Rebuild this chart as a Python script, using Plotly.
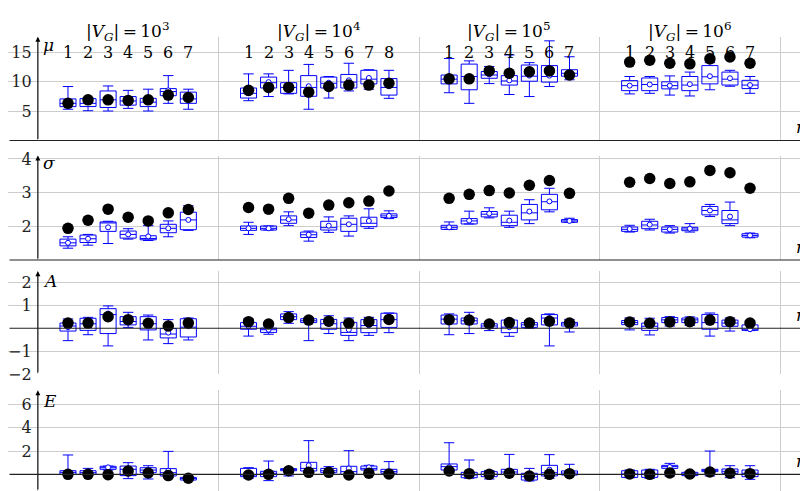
import plotly.graph_objects as go

# ---------------- data ----------------
group_exps = [3, 4, 5, 6]
group_sizes = [7, 8, 7, 7]
x_pos = [1.5, 2.5, 3.5, 4.5, 5.5, 6.5, 7.5,
         10.5, 11.5, 12.5, 13.5, 14.5, 15.5, 16.5, 17.5,
         20.5, 21.5, 22.5, 23.5, 24.5, 25.5, 26.5,
         29.5, 30.5, 31.5, 32.5, 33.5, 34.5, 35.5]
box_labels = ["1", "2", "3", "4", "5", "6", "7",
              "1", "2", "3", "4", "5", "6", "7", "8",
              "1", "2", "3", "4", "5", "6", "7",
              "1", "2", "3", "4", "5", "6", "7"]
grid_x = [0, 9, 19, 28, 37]

# mu
mu_lower = [5.3, 5.05, 5.0, 5.45, 5.0, 6.3, 5.3, 6.75, 7.45, 7.9, 5.3, 7.2, 8.4, 8.7, 7.15,
            8.1, 6.3, 9.65, 7.8, 7.45, 9.15, 10.3, 7.9, 8.0, 7.7, 7.55, 8.6, 9.2, 8.0]
mu_q1 = [5.74, 5.75, 5.6, 6.0, 5.75, 7.6, 6.3, 7.2, 8.9, 8.0, 7.5, 8.9, 8.9, 9.6, 7.7,
         9.6, 8.6, 10.55, 9.4, 10.05, 9.9, 10.9, 8.45, 8.45, 8.75, 8.45, 9.6, 9.4, 8.8]
mu_median = [6.3, 6.3, 6.9, 6.7, 6.5, 8.3, 7.05, 8.0, 9.8, 9.0, 9.0, 9.7, 9.9, 10.4, 9.0,
             10.4, 10.85, 11.1, 10.1, 10.9, 10.85, 11.4, 9.3, 9.5, 9.3, 9.4, 10.8, 10.4, 9.4]
mu_q3 = [7.05, 7.1, 8.4, 7.45, 7.15, 8.8, 8.2, 8.9, 10.75, 9.8, 11.0, 10.75, 11.2, 11.9, 10.5,
         11.1, 12.95, 11.7, 11.0, 12.8, 12.7, 12.0, 10.15, 10.6, 9.95, 10.85, 12.7, 11.6, 10.2]
mu_upper = [9.15, 7.2, 9.25, 8.5, 8.7, 11.0, 8.7, 11.3, 11.3, 11.9, 12.9, 10.85, 13.1, 12.0, 11.9,
            13.9, 13.5, 12.55, 14.5, 13.2, 16.9, 14.2, 10.85, 10.85, 10.95, 11.6, 13.2, 11.9, 10.85]
mu_mean = [6.3, 6.5, 7.0, 6.7, 6.6, 8.5, 7.2, 8.0, 9.9, 9.0, 9.2, 9.8, 10.2, 10.6, 9.2,
           10.4, 10.7, 11.2, 10.2, 11.0, 11.0, 11.4, 9.3, 9.5, 9.3, 9.55, 10.9, 10.55, 9.4]
mu_dot = [6.3, 6.9, 6.9, 6.8, 6.9, 7.7, 7.3, 8.5, 9.0, 9.0, 8.2, 9.15, 9.4, 9.4, 9.7,
          10.45, 10.45, 11.8, 11.4, 11.65, 11.8, 11.1, 13.3, 13.6, 13.1, 13.0, 13.85, 14.15, 13.1]

# sigma
sg_lower = [1.35, 1.44, 1.49, 1.62, 1.58, 1.69, 1.88, 1.76, 1.89, 2.02, 1.56, 1.82, 1.71, 1.94, 2.23,
            1.91, 2.07, 2.25, 1.97, 2.08, 2.43, 2.12, 1.83, 1.89, 1.8, 1.83, 2.29, 2.02, 1.66]
sg_q1 = [1.42, 1.52, 1.85, 1.65, 1.6, 1.81, 1.9, 1.88, 1.89, 2.09, 1.67, 1.89, 1.85, 1.99, 2.26,
         1.91, 2.07, 2.28, 2.02, 2.19, 2.49, 2.12, 1.85, 1.93, 1.83, 1.87, 2.34, 2.08, 1.68]
sg_median = [1.51, 1.63, 2.1, 1.76, 1.64, 1.94, 2.19, 1.94, 1.94, 2.19, 1.75, 1.96, 2.06, 2.09, 2.31,
             1.97, 2.16, 2.36, 2.12, 2.4, 2.73, 2.16, 1.91, 2.04, 1.91, 1.92, 2.47, 2.19, 1.73]
sg_q3 = [1.62, 1.74, 2.13, 1.86, 1.72, 2.06, 2.42, 2.01, 2.01, 2.31, 1.83, 2.15, 2.24, 2.27, 2.37,
         2.03, 2.23, 2.44, 2.33, 2.65, 2.95, 2.2, 1.98, 2.15, 1.98, 1.97, 2.59, 2.47, 1.78]
sg_upper = [1.69, 1.76, 2.15, 1.93, 2.02, 2.16, 2.61, 2.12, 2.01, 2.43, 1.86, 2.28, 2.31, 2.52, 2.46,
            2.13, 2.45, 2.55, 2.45, 2.79, 3.13, 2.24, 2.03, 2.21, 2.02, 2.08, 2.65, 2.72, 1.8]
sg_mean = [1.51, 1.63, 1.97, 1.76, 1.7, 1.94, 2.19, 1.94, 1.94, 2.21, 1.75, 2.02, 2.06, 2.16, 2.31,
           1.97, 2.17, 2.38, 2.17, 2.44, 2.74, 2.16, 1.92, 2.05, 1.91, 1.93, 2.47, 2.29, 1.73]
sg_dot = [1.94, 2.18, 2.51, 2.27, 2.16, 2.4, 2.5, 2.56, 2.51, 2.83, 2.39, 2.63, 2.7, 2.75, 3.05,
          2.83, 2.95, 3.06, 2.99, 3.22, 3.36, 2.98, 3.31, 3.42, 3.27, 3.32, 3.66, 3.59, 3.13]

# A
a_lower = [-0.54, -0.28, -0.77, 0.04, -0.51, -0.67, -0.51, -0.34, -0.26, 0.22, -0.54, -0.23, -0.54, -0.31, -0.19,
           -0.28, -0.23, -0.1, -0.35, 0.0, -0.77, -0.16, -0.07, -0.29, 0.1, 0.13, -0.34, -0.12, -0.1]
a_q1 = [-0.12, -0.09, -0.23, 0.15, -0.07, -0.42, -0.38, -0.04, -0.18, 0.38, 0.25, -0.04, -0.31, -0.19, 0.04,
        0.19, 0.19, 0.0, -0.19, 0.04, 0.15, 0.1, 0.16, -0.09, 0.25, 0.25, -0.04, 0.09, -0.09]
a_median = [0.1, 0.2, 0.6, 0.3, 0.2, -0.25, 0.05, 0.09, -0.06, 0.51, 0.33, 0.2, -0.18, 0.12, 0.38,
            0.4, 0.33, 0.1, 0.05, 0.15, 0.45, 0.19, 0.25, 0.09, 0.37, 0.37, 0.25, 0.23, -0.04]
a_q3 = [0.23, 0.44, 0.86, 0.51, 0.51, -0.01, 0.42, 0.25, 0.01, 0.63, 0.42, 0.39, 0.26, 0.38, 0.66,
        0.58, 0.45, 0.2, 0.36, 0.25, 0.6, 0.26, 0.34, 0.23, 0.47, 0.45, 0.61, 0.36, 0.15]
a_upper = [0.41, 0.48, 0.98, 0.7, 0.58, 0.38, 0.45, 0.41, 0.1, 0.73, 0.45, 0.55, 0.45, 0.48, 0.67,
           0.63, 0.7, 0.25, 0.38, 0.34, 0.63, 0.39, 0.45, 0.44, 0.51, 0.5, 0.67, 0.45, 0.32]
a_mean = [0.05, 0.2, 0.65, 0.3, 0.2, -0.19, 0.09, 0.09, -0.06, 0.51, 0.33, 0.2, -0.06, 0.13, 0.38,
          0.4, 0.33, 0.1, 0.05, 0.15, 0.45, 0.19, 0.25, 0.1, 0.28, 0.28, 0.25, 0.26, -0.04]
a_dot = [0.23, 0.23, 0.51, 0.38, 0.22, 0.1, 0.23, 0.29, 0.19, 0.47, 0.36, 0.31, 0.22, 0.29, 0.39,
         0.38, 0.36, 0.19, 0.25, 0.23, 0.31, 0.23, 0.28, 0.22, 0.28, 0.29, 0.36, 0.29, 0.23]

# E
e_lower = [0.0, -0.06, 0.37, -0.37, -0.4, -0.26, -0.54, -0.34, -0.54, -0.14, 0.29, 0.1, -0.06, 0.37, 0.05,
           0.31, -0.34, -0.4, -0.06, -0.57, -0.34, -0.06, -0.29, -0.34, -0.14, -0.2, -0.14, -0.29, -0.43]
e_q1 = [0.0, 0.0, 0.43, -0.11, 0.14, -0.14, -0.49, -0.2, -0.2, 0.31, 0.29, 0.14, 0.0, 0.37, 0.09,
        0.37, -0.29, -0.2, 0.0, -0.49, -0.14, -0.06, -0.26, -0.26, 0.51, -0.11, 0.23, 0.09, -0.2]
e_median = [0.17, 0.14, 0.57, 0.43, 0.37, 0.14, -0.37, -0.06, 0.09, 0.43, 0.51, 0.31, 0.23, 0.51, 0.23,
            0.66, -0.06, 0.0, 0.2, -0.2, 0.14, 0.11, 0.03, 0.03, 0.66, 0.03, 0.34, 0.26, 0.09]
e_q3 = [0.31, 0.31, 0.69, 0.71, 0.57, 0.49, -0.26, 0.51, 0.26, 0.49, 1.03, 0.51, 0.69, 0.71, 0.43,
        0.89, 0.17, 0.23, 0.43, 0.09, 0.77, 0.29, 0.31, 0.37, 0.77, 0.17, 0.43, 0.46, 0.37]
e_upper = [1.66, 0.51, 0.71, 1.0, 0.74, 1.97, -0.2, 0.57, 1.14, 0.51, 2.89, 0.66, 2.03, 0.77, 1.09,
           2.71, 1.23, 0.31, 1.71, 0.51, 1.69, 0.86, 0.37, 0.43, 0.94, 0.23, 2.0, 0.74, 0.74]
e_mean = [0.17, 0.14, 0.6, 0.35, 0.37, 0.31, -0.37, 0.1, 0.09, 0.43, 0.77, 0.31, 0.51, 0.6, 0.23,
          0.63, -0.06, 0.0, 0.2, -0.2, 0.4, 0.11, 0.03, 0.03, 0.63, 0.03, 0.34, 0.26, 0.09]
e_dot = [0.0, 0.0, -0.03, 0.29, 0.11, -0.11, -0.34, -0.06, 0.0, 0.31, 0.17, 0.17, -0.06, 0.09, 0.03,
         0.29, 0.06, 0.0, 0.09, -0.14, 0.0, 0.06, 0.03, 0.0, 0.11, 0.03, 0.2, 0.09, 0.06]

panel_names = ["μ", "σ", "A", "E"]
y_ticks = [[5, 10, 15], [2, 3, 4], [-2, -1, 1, 2], [2, 4, 6]]

# ---------------- styling / layout ----------------
# The page body adds an 8px offset, so the figure is 800x483 and
# screen coordinates are figure coordinates + 8.
W, H = 800, 483
OFF = 8
FONT = "DejaVu Serif"
GRID = "#cdcdcd"
BLUE = "#0000ff"


def py(screen_y):
    return 1 - (screen_y - OFF) / H


panels = [
    dict(lo=mu_lower, q1=mu_q1, md=mu_median, q3=mu_q3, hi=mu_upper, mn=mu_mean, dot=mu_dot,
         rng=[0, 17.6], dom=[py(140.5), py(36.7)], xline=0, label_py=45),
    dict(lo=sg_lower, q1=sg_q1, md=sg_median, q3=sg_q3, hi=sg_upper, mn=sg_mean, dot=sg_dot,
         rng=[1, 4.1], dom=[py(260), py(155.6)], xline=1, label_py=163),
    dict(lo=a_lower, q1=a_q1, md=a_median, q3=a_q3, hi=a_upper, mn=a_mean, dot=a_dot,
         rng=[-2, 2.5], dom=[py(374), py(271.2)], xline=0, label_py=281),
    dict(lo=e_lower, q1=e_q1, md=e_median, q3=e_q3, hi=e_upper, mn=e_mean, dot=e_dot,
         rng=[-1.43, 7.2], dom=[0.0, py(390.4)], xline=0, label_py=401),
]

x_range = [-1.49, 38.39]
x_end = 38.35
yaxis_pos = (0 - x_range[0]) / (x_range[1] - x_range[0])

fig = go.Figure()
annotations = []
layout = {}

for i, p in enumerate(panels):
    sfx = "" if i == 0 else str(i + 1)
    xa, ya = "x" + sfx, "y" + sfx
    fig.add_trace(go.Box(
        x=x_pos, q1=p["q1"], median=p["md"], q3=p["q3"],
        lowerfence=p["lo"], upperfence=p["hi"],
        width=0.8, whiskerwidth=0.65,
        line=dict(color=BLUE, width=1), fillcolor="rgba(255,255,255,0)",
        boxpoints=False, showlegend=False, hoverinfo="skip",
        xaxis=xa, yaxis=ya))
    fig.add_trace(go.Scatter(
        x=x_pos, y=p["mn"], mode="markers",
        marker=dict(symbol="circle", size=5, color="white", line=dict(color=BLUE, width=1)),
        showlegend=False, hoverinfo="skip", xaxis=xa, yaxis=ya))
    fig.add_trace(go.Scatter(
        x=x_pos, y=p["dot"], mode="markers",
        marker=dict(symbol="circle", size=11.5, color="black"),
        showlegend=False, hoverinfo="skip", xaxis=xa, yaxis=ya))

    layout["xaxis" + sfx] = dict(
        domain=[0, 1], range=x_range, anchor=ya, automargin=False,
        tickvals=grid_x, showticklabels=False, ticks="",
        showgrid=True, gridcolor=GRID, gridwidth=1,
        zeroline=False, showline=False)
    layout["yaxis" + sfx] = dict(
        domain=p["dom"], range=p["rng"], anchor="free", position=yaxis_pos,
        automargin=False,
        tickvals=y_ticks[i], ticks="outside", ticklen=3, tickcolor="rgba(0,0,0,0)",
        showgrid=True, gridcolor=GRID, gridwidth=1,
        zeroline=False, showline=False,
        tickfont=dict(family=FONT, size=16, color="#222"))

    # y axis line with arrow
    annotations.append(dict(
        x=0, y=p["rng"][1], ax=0, ay=p["rng"][0],
        xref=xa, yref=ya, axref=xa, ayref=ya,
        text="", showarrow=True, arrowhead=2, arrowsize=0.9, arrowwidth=1.1,
        arrowcolor="black", standoff=0, startstandoff=0))
    # x axis line with arrow
    annotations.append(dict(
        x=x_end, y=p["xline"], ax=x_range[0], ay=p["xline"],
        xref=xa, yref=ya, axref=xa, ayref=ya,
        text="", showarrow=True, arrowhead=2, arrowsize=0.9, arrowwidth=1.1,
        arrowcolor="#222", standoff=0, startstandoff=0))
    # panel label
    annotations.append(dict(
        x=0, xref=xa, xanchor="left", xshift=3,
        y=py(p["label_py"]), yref="paper", yanchor="middle",
        text="<i>%s</i>" % panel_names[i], showarrow=False,
        font=dict(family=FONT, size=17, color="black")))
    # r label
    annotations.append(dict(
        x=38.0, xref=xa, xanchor="center",
        y=p["xline"], yref=ya, yanchor="bottom", yshift=1,
        text="<i>r</i>", showarrow=False,
        font=dict(family=FONT, size=17, color="black")))

# group headers
start = 0
for g, n in enumerate(group_sizes):
    xs = x_pos[start:start + n]
    center = (xs[0] + xs[-1]) / 2
    annotations.append(dict(
        x=center, xref="x", y=py(17), yref="paper",
        text="|<i>V</i><sub><i>G</i></sub>|&#8201;=&#8201;10<sup>%d</sup>" % group_exps[g],
        showarrow=False, font=dict(family=FONT, size=17, color="black")))
    start += n

for xp, lab in zip(x_pos, box_labels):
    annotations.append(dict(
        x=xp, xref="x", y=py(41), yref="paper",
        text=lab, showarrow=False, font=dict(family=FONT, size=16, color="black")))

fig.update_layout(
    width=W, height=H,
    margin=dict(l=0, r=0, t=0, b=0, autoexpand=False),
    paper_bgcolor="white", plot_bgcolor="white",
    showlegend=False,
    annotations=annotations,
    **layout)

fig.write_html("out.html")
